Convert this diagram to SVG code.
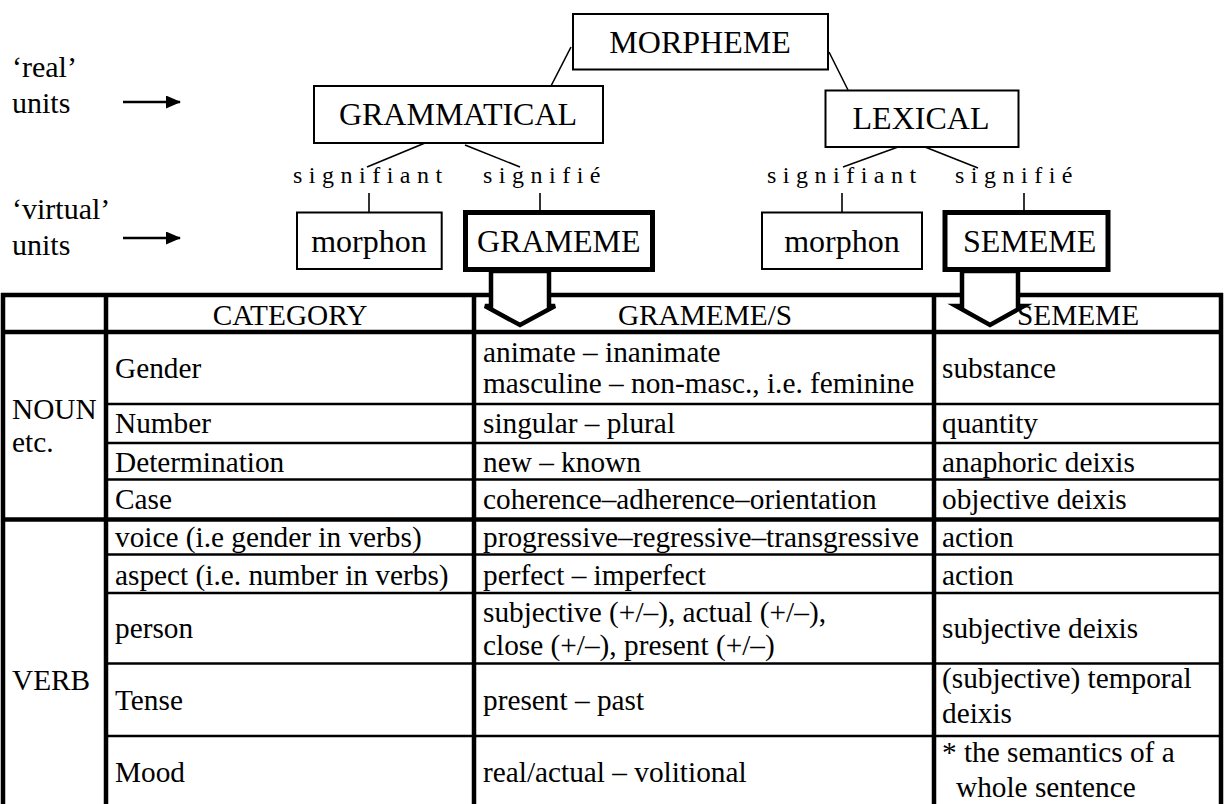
<svg xmlns="http://www.w3.org/2000/svg" width="1225" height="804" viewBox="0 0 1225 804">
<style>
text { font-family: "Liberation Serif", "Times New Roman", serif; fill: #000; }
.big { font-size: 32px; }
.lab { font-size: 30px; }
.sig { font-size: 24px; letter-spacing: 6.5px; }
.cell { font-size: 29.3px; }
.mid { text-anchor: middle; }
.box { fill: #fff; stroke: #000; stroke-width: 2; }
.tbox { fill: #fff; stroke: #000; stroke-width: 5; }
.con { stroke: #000; stroke-width: 1.6; fill: none; }
.arr { stroke: #000; stroke-width: 2.5; fill: none; }
.thick { stroke: #000; stroke-width: 4.5; }
.thin { stroke: #000; stroke-width: 2.5; }
.blk { fill: #fff; stroke: #000; stroke-width: 4.5; stroke-linejoin: miter; }
</style>
<defs>
<marker id="ah" markerWidth="15" markerHeight="13" refX="14" refY="6.5" orient="auto" markerUnits="userSpaceOnUse">
<path d="M0,0 L15,6.5 L0,13 z" fill="#000"/>
</marker>
</defs>
<rect width="1225" height="804" fill="#fff"/>

<g id="side-labels">
<text class="lab" x="12" y="77">‘real’</text>
<text class="lab" x="12" y="113">units</text>
<text class="lab" x="12" y="219">‘virtual’</text>
<text class="lab" x="12" y="255">units</text>
</g>

<g id="connectors">
<line class="arr" x1="123" y1="102" x2="180" y2="102" marker-end="url(#ah)"/>
<line class="arr" x1="123" y1="238" x2="180" y2="238" marker-end="url(#ah)"/>
<line class="con" x1="571" y1="47" x2="551" y2="86"/>
<line class="con" x1="829" y1="52" x2="848" y2="90"/>
<line class="con" x1="425" y1="143" x2="367" y2="167"/>
<line class="con" x1="465" y1="145" x2="520" y2="167"/>
<line class="con" x1="898" y1="147" x2="843" y2="167"/>
<line class="con" x1="925" y1="147" x2="978" y2="168"/>
<line class="con" x1="369" y1="193" x2="369" y2="212"/>
<line class="con" x1="540" y1="193" x2="540" y2="212"/>
<line class="con" x1="842" y1="193" x2="842" y2="212"/>
<line class="con" x1="1024" y1="193" x2="1024" y2="212"/>
</g>

<g id="morpheme">
<rect class="box" x="573" y="14" width="255" height="55.5"/>
<text class="big mid" x="700" y="53">MORPHEME</text>
</g>
<g id="grammatical">
<rect class="box" x="314" y="86" width="289" height="57"/>
<text class="big mid" x="458" y="125">GRAMMATICAL</text>
</g>
<g id="lexical">
<rect class="box" x="825.5" y="90.5" width="193" height="56.5"/>
<text class="big mid" x="921" y="129">LEXICAL</text>
</g>

<g id="sig-labels">
<text class="sig" x="293" y="183">signifiant</text>
<text class="sig" x="483" y="183">signifié</text>
<text class="sig" x="767" y="183">signifiant</text>
<text class="sig" x="955" y="183">signifié</text>
</g>

<g id="morphon-g">
<rect class="box" x="297" y="212.5" width="144.7" height="56.5"/>
<text class="big mid" x="369" y="252">morphon</text>
</g>
<g id="grameme">
<rect class="tbox" x="465.5" y="212.5" width="187" height="57"/>
<text class="big" x="477" y="252">GRAMEME</text>
</g>
<g id="morphon-l">
<rect class="box" x="762" y="212.5" width="160" height="56.5"/>
<text class="big mid" x="842" y="252">morphon</text>
</g>
<g id="sememe">
<rect class="tbox" x="945" y="212.5" width="163" height="57"/>
<text class="big" x="963" y="252">SEMEME</text>
</g>

<g id="table">
<line class="thick" x1="1" y1="295" x2="1223" y2="295"/>
<line class="thick" x1="1" y1="332" x2="1223" y2="332"/>
<line class="thick" x1="1" y1="519.5" x2="1223" y2="519.5"/>
<line class="thin" x1="106" y1="404" x2="1221" y2="404"/>
<line class="thin" x1="106" y1="443" x2="1221" y2="443"/>
<line class="thin" x1="106" y1="479.5" x2="1221" y2="479.5"/>
<line class="thin" x1="106" y1="554.5" x2="1221" y2="554.5"/>
<line class="thin" x1="106" y1="593" x2="1221" y2="593"/>
<line class="thin" x1="106" y1="663.5" x2="1221" y2="663.5"/>
<line class="thin" x1="106" y1="736" x2="1221" y2="736"/>
<line class="thick" x1="3" y1="293" x2="3" y2="804"/>
<line class="thick" x1="106" y1="293" x2="106" y2="804"/>
<line class="thick" x1="474" y1="293" x2="474" y2="804"/>
<line class="thick" x1="934" y1="293" x2="934" y2="804"/>
<line class="thick" x1="1221" y1="293" x2="1221" y2="804"/>
</g>

<g id="block-arrows">
<polygon class="blk" points="491,271 491,306 485,306 520,325 555,306 549,306 549,271"/>
<polygon class="blk" points="962,271 962,306 956,306 990,325 1024,306 1018,306 1018,271"/>
</g>

<g id="table-text">
<text class="cell mid" x="290" y="325">CATEGORY</text>
<text class="cell mid" x="705" y="325">GRAMEME/S</text>
<text class="cell mid" x="1078" y="325">SEMEME</text>

<text class="cell" x="12" y="419">NOUN</text>
<text class="cell" x="12" y="452">etc.</text>
<text class="cell" x="12" y="690">VERB</text>

<text class="cell" x="115" y="378">Gender</text>
<text class="cell" x="115" y="433">Number</text>
<text class="cell" x="115" y="472">Determination</text>
<text class="cell" x="115" y="509">Case</text>
<text class="cell" x="115" y="547">voice (i.e gender in verbs)</text>
<text class="cell" x="115" y="585">aspect (i.e. number in verbs)</text>
<text class="cell" x="115" y="638">person</text>
<text class="cell" x="115" y="710">Tense</text>
<text class="cell" x="115" y="782">Mood</text>

<text class="cell" x="483" y="362">animate – inanimate</text>
<text class="cell" x="483" y="393">masculine – non-masc., i.e. feminine</text>
<text class="cell" x="483" y="433">singular – plural</text>
<text class="cell" x="483" y="472">new – known</text>
<text class="cell" x="483" y="509">coherence–adherence–orientation</text>
<text class="cell" x="483" y="547">progressive–regressive–transgressive</text>
<text class="cell" x="483" y="585">perfect – imperfect</text>
<text class="cell" x="483" y="622">subjective (+/–), actual (+/–),</text>
<text class="cell" x="483" y="655">close (+/–), present (+/–)</text>
<text class="cell" x="483" y="710">present – past</text>
<text class="cell" x="483" y="782">real/actual – volitional</text>

<text class="cell" x="942" y="378">substance</text>
<text class="cell" x="942" y="433">quantity</text>
<text class="cell" x="942" y="472">anaphoric deixis</text>
<text class="cell" x="942" y="509">objective deixis</text>
<text class="cell" x="942" y="547">action</text>
<text class="cell" x="942" y="585">action</text>
<text class="cell" x="942" y="638">subjective deixis</text>
<text class="cell" x="942" y="688">(subjective) temporal</text>
<text class="cell" x="942" y="723">deixis</text>
<text class="cell" x="942" y="762">* the semantics of a</text>
<text class="cell" x="956" y="797">whole sentence</text>
</g>
</svg>
